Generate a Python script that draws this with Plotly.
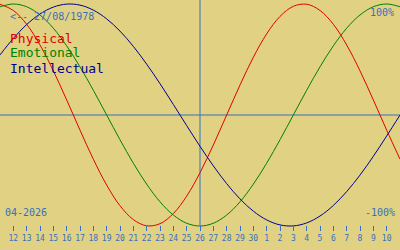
import plotly.graph_objects as go

# Day index: 0 = 12 April 2026 ... 28 = 10 May 2026 (center = 26 April, index 14)
days = list(range(-1, 30))
day_labels = ["12", "13", "14", "15", "16", "17", "18", "19", "20", "21", "22", "23",
              "24", "25", "26", "27", "28", "29", "30", "1", "2", "3", "4", "5", "6",
              "7", "8", "9", "10"]

physical = [0.998, 0.942, 0.817, 0.631, 0.398, 0.136, -0.136, -0.398, -0.631, -0.817,
            -0.942, -0.998, -0.979, -0.888, -0.731, -0.520, -0.270, 0.0, 0.270, 0.520,
            0.731, 0.888, 0.979, 0.998, 0.942, 0.817, 0.631, 0.398, 0.136, -0.136, -0.398]
emotional = [0.975, 1.0, 0.975, 0.901, 0.782, 0.623, 0.434, 0.223, 0.0, -0.223,
             -0.434, -0.623, -0.782, -0.901, -0.975, -1.0, -0.975, -0.901, -0.782, -0.623,
             -0.434, -0.223, 0.0, 0.223, 0.434, 0.623, 0.782, 0.901, 0.975, 1.0, 0.975]
intellectual = [0.541, 0.690, 0.815, 0.910, 0.972, 0.999, 0.990, 0.945, 0.866, 0.756,
                0.618, 0.458, 0.282, 0.095, -0.095, -0.282, -0.458, -0.618, -0.756, -0.866,
                -0.945, -0.990, -0.999, -0.972, -0.910, -0.815, -0.690, -0.541, -0.372, -0.189, 0.0]

BG = "#E0D282"
BLUE = "#3A6EC0"
MONO = "DejaVu Sans Mono"

fig = go.Figure()

fig.add_shape(type="line", x0=14, x1=14, xref="x", y0=0.1, y1=1, yref="paper",
              line=dict(color=BLUE, width=1), layer="below")
fig.add_shape(type="line", x0=0, x1=1, xref="paper", y0=0, y1=0, yref="y",
              line=dict(color=BLUE, width=1), layer="below")

for name, vals, col in [("Physical", physical, "#E00000"),
                        ("Emotional", emotional, "#008000"),
                        ("Intellectual", intellectual, "#000090")]:
    fig.add_trace(go.Scatter(x=days, y=vals, mode="lines", name=name,
                             line=dict(color=col, width=1, shape="spline"),
                             hoverinfo="skip"))

def px_y(py):
    return 1 - py / 250.0

anns = [
    dict(text="<-- 27/08/1978", x=8 / 400, y=px_y(16), xanchor="left", size=10, color=BLUE),
    dict(text="Physical", x=8 / 400, y=px_y(38), xanchor="left", size=13, color="#E00000"),
    dict(text="Emotional", x=8 / 400, y=px_y(53), xanchor="left", size=13, color="#008000"),
    dict(text="Intellectual", x=8 / 400, y=px_y(68), xanchor="left", size=13, color="#000090"),
    dict(text="100%", x=396 / 400, y=px_y(12), xanchor="right", size=10, color=BLUE),
    dict(text="-100%", x=397 / 400, y=px_y(212), xanchor="right", size=10, color=BLUE),
    dict(text="04-2026", x=3 / 400, y=px_y(212), xanchor="left", size=10, color=BLUE),
]
for a in anns:
    fig.add_annotation(text=a["text"], x=a["x"], y=a["y"], xref="paper", yref="paper",
                       xanchor=a["xanchor"], yanchor="middle", showarrow=False,
                       font=dict(family=MONO, size=a["size"], color=a["color"]))

fig.update_layout(
    width=400, height=250, margin=dict(l=0, r=0, t=0, b=0),
    paper_bgcolor=BG, plot_bgcolor=BG, showlegend=False,
    xaxis=dict(range=[-1, 29], anchor="free", position=0.1, showgrid=False,
               zeroline=False, showline=False, tickmode="array",
               tickvals=list(range(0, 29)), ticktext=day_labels,
               ticks="outside", ticklen=5, tickwidth=1, tickcolor=BLUE,
               tickfont=dict(family=MONO, size=8, color=BLUE), fixedrange=True),
    yaxis=dict(range=[-1.216, 1.036], showgrid=False, showticklabels=False,
               zeroline=False, showline=False, ticks="", fixedrange=True),
)

fig.write_html("out.html")
